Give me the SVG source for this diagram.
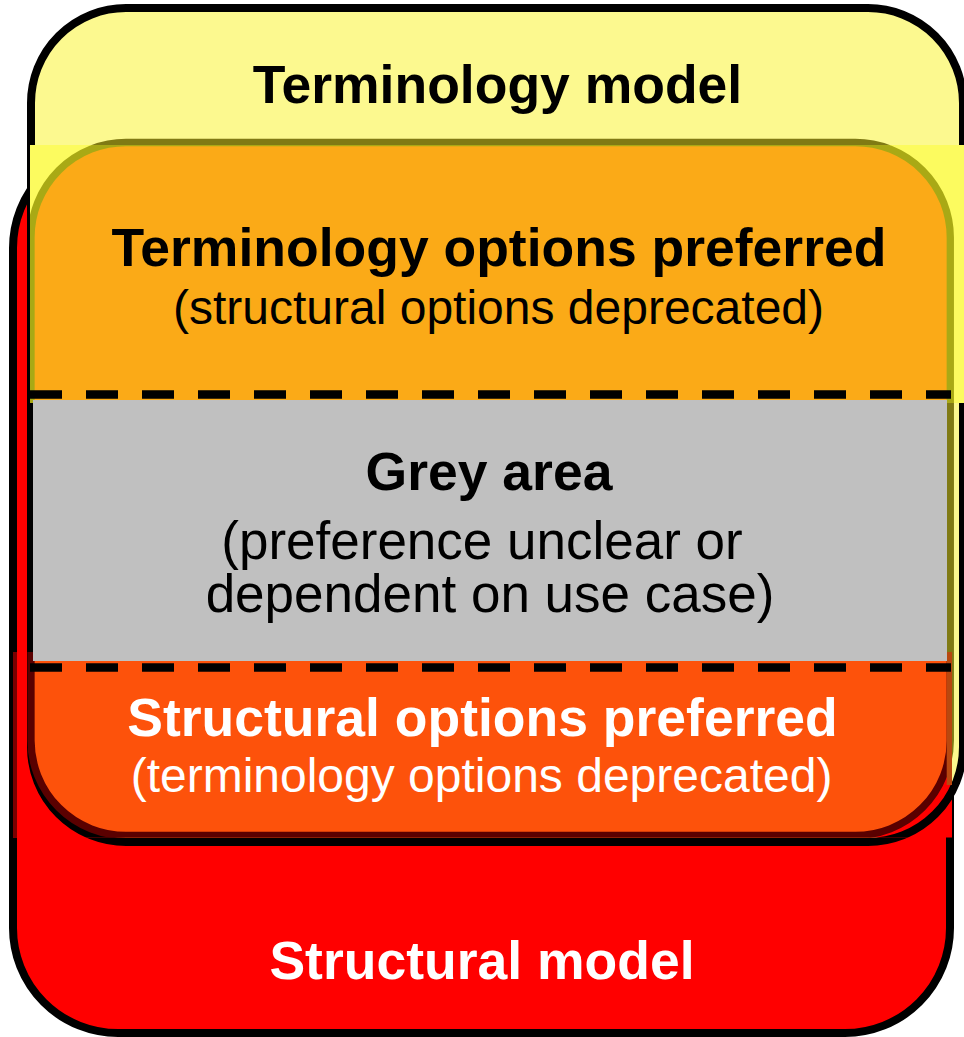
<svg xmlns="http://www.w3.org/2000/svg" width="964" height="1037" viewBox="0 0 964 1037">
  <style>
    .b { font-family: "Liberation Sans", Arial, sans-serif; font-weight: bold; font-size: 53.5px; text-anchor: middle; }
    .r { font-family: "Liberation Sans", Arial, sans-serif; font-size: 48px; text-anchor: middle; }
    .rg { font-family: "Liberation Sans", Arial, sans-serif; font-size: 53px; text-anchor: middle; }
    .k { fill: #000000; }
    .w { fill: #FFFFFF; }
    .dash { stroke: #000000; stroke-width: 8.5; stroke-dasharray: 32 24; fill: none; }
  </style>
  <defs>
    <rect id="orr" x="31" y="142.5" width="919.3" height="693" rx="95" ry="95"/>
    <rect id="yrr" x="31" y="8" width="932" height="834" rx="95" ry="95"/>
    <clipPath id="clipTop"><rect x="30" y="145" width="934" height="258"/></clipPath>
    <clipPath id="clipBot"><rect x="13" y="652" width="939" height="185.5"/></clipPath>
  </defs>

  <g id="structural-model">
    <rect x="13" y="143" width="937" height="890" rx="105" ry="105" fill="#FF0000" stroke="#000000" stroke-width="8"/>
  </g>

  <g id="terminology-model">
    <use href="#yrr" fill="#FCF98F"/>
    <use href="#orr" fill="none" stroke="#807A14" stroke-width="7.3"/>
    <use href="#yrr" fill="none" stroke="#000000" stroke-width="8"/>
  </g>

  <g id="terminology-preferred">
    <g clip-path="url(#clipTop)">
      <rect x="30" y="145" width="934" height="258" fill="#FCFB5F"/>
      <use href="#orr" fill="#FBAA17" stroke="#A9A915" stroke-width="7.3"/>
    </g>
  </g>

  <g id="structural-preferred">
    <g clip-path="url(#clipBot)">
      <rect x="13" y="652" width="939" height="186" fill="#FF0000"/>
      <rect x="13" y="652" width="4" height="186" fill="#7A0000"/>
      <use href="#yrr" fill="none" stroke="#000000" stroke-width="8"/>
      <use href="#orr" fill="#FD520B" stroke="#5A0000" stroke-width="7.3"/>
      <rect x="946.7" y="652" width="5.3" height="133" fill="#B8480F"/>
    </g>
  </g>

  <g id="grey-area">
    <rect x="33" y="400" width="914" height="261" fill="#C0C0C0"/>
  </g>

  <g id="connectors">
    <line class="dash" x1="30" y1="394.5" x2="951" y2="394.5"/>
    <line class="dash" x1="30" y1="667.5" x2="951" y2="667.5"/>
  </g>

  <g id="labels">
    <text class="b k" x="497.5" y="103">Terminology model</text>
    <text class="b k" x="499" y="266">Terminology options preferred</text>
    <text class="r k" x="498.5" y="324">(structural options deprecated)</text>
    <text class="b k" x="489" y="490">Grey area</text>
    <text class="rg k" x="482" y="559">(preference unclear or</text>
    <text class="rg k" x="490" y="612">dependent on use case)</text>
    <text class="b w" x="482.5" y="736">Structural options preferred</text>
    <text class="r w" x="481.5" y="792">(terminology options deprecated)</text>
    <text class="b w" x="482" y="979">Structural model</text>
  </g>
</svg>
